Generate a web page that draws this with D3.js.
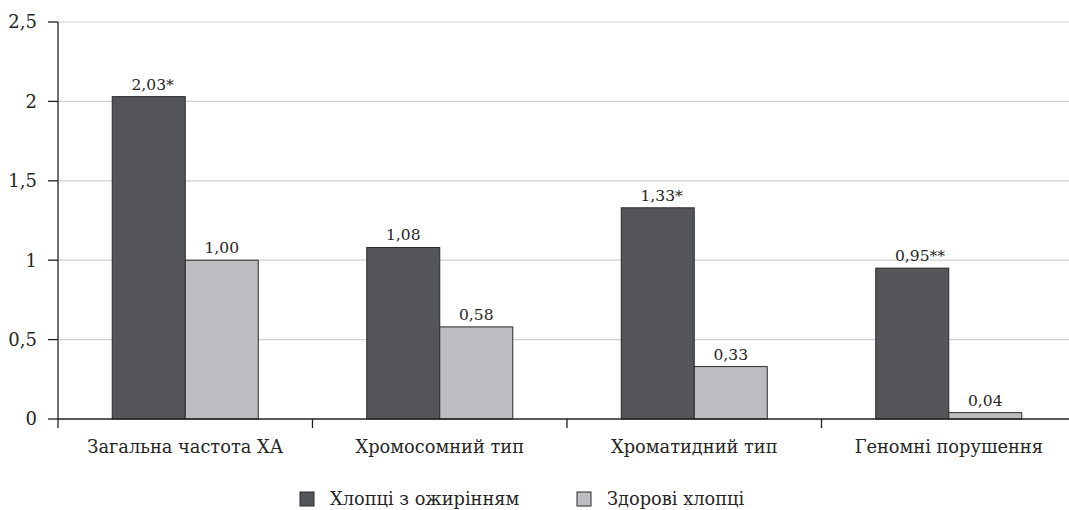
<!DOCTYPE html>
<html><head><meta charset="utf-8">
<script src="https://cdn.jsdelivr.net/npm/d3@7"></script>
<style>body{margin:0;background:#fff}svg{display:block}</style>
</head><body><svg id="c" width="1069" height="510" font-family="DejaVu Serif"></svg>
<script>
const categories = ["Загальна частота ХА","Хромосомний тип","Хроматидний тип","Геномні порушення"];
const seriesNames = ["Хлопці з ожирінням","Здорові хлопці"];
const obese = [2.03,1.08,1.33,0.95];
const healthy = [1.00,0.58,0.33,0.04];
const obeseMarks = ["*","","*","**"];
const healthyMarks = ["","","",""];
const yTicks = [0,0.5,1,1.5,2,2.5];
const colors = ["#555659","#bcbdc1"];

(function(){
const svg = d3.select("#c");
const mLeft = 58, mRight = 1076, mTop = 22, mBottom = 419;
const x = d3.scaleBand().domain(categories).range([mLeft,mRight]).paddingInner(0).paddingOuter(0);
const y = d3.scaleLinear().domain([0,2.5]).range([mBottom,mTop]);
const fmt = v => d3.format(".2f")(v).replace(".",",");
const fmtTick = v => String(v).replace(".",",");
const txt = "#262626";

svg.append("g").selectAll("line").data(yTicks.filter(d=>d>0)).join("line")
  .attr("x1",mLeft).attr("x2",1069).attr("y1",d=>y(d)).attr("y2",d=>y(d))
  .attr("stroke","#d0d0d0").attr("stroke-width",1.2);

const inner = d3.scaleBand().domain([0,1]).range([0,146]);
const series = [obese, healthy];
const marks = [obeseMarks, healthyMarks];
const groups = svg.append("g");
series.forEach((vals,si)=>{
  const g = groups.append("g");
  g.selectAll("rect").data(vals).join("rect")
    .attr("x",(d,i)=>x(categories[i])+x.bandwidth()/2-73+inner(si))
    .attr("y",d=>y(d)).attr("width",inner.bandwidth()).attr("height",d=>y(0)-y(d))
    .attr("fill",colors[si]).attr("stroke","#2a2a2a").attr("stroke-width",1);
  vals.forEach((d,i)=>{
    const cx = x(categories[i])+x.bandwidth()/2-73+inner(si)+inner.bandwidth()/2;
    const t = g.append("text").attr("x",cx).attr("y",y(d)-7).attr("text-anchor","middle")
      .attr("font-size",15.5).attr("fill",txt).text(fmt(d));
    if (marks[si][i]) {
      const w = t.node().getComputedTextLength();
      g.append("text").attr("x",cx+w/2).attr("y",y(d)-7).attr("font-size",15.5).attr("fill",txt).text(marks[si][i]);
    }
  });
});

const ya = svg.append("g");
ya.append("line").attr("x1",mLeft).attr("x2",mLeft).attr("y1",mTop).attr("y2",mBottom).attr("stroke","#222").attr("stroke-width",1.3);
ya.selectAll("line.t").data(yTicks).join("line").attr("class","t")
  .attr("x1",48).attr("x2",mLeft).attr("y1",d=>y(d)).attr("y2",d=>y(d)).attr("stroke","#222").attr("stroke-width",1.3);
ya.selectAll("text").data(yTicks).join("text").attr("x",37).attr("y",d=>y(d)).attr("dy","0.35em")
  .attr("text-anchor","end").attr("font-size",18).attr("fill",txt).text(fmtTick);

const xa = svg.append("g");
xa.append("line").attr("x1",mLeft).attr("x2",1069).attr("y1",mBottom).attr("y2",mBottom).attr("stroke","#222").attr("stroke-width",1.3);
const bounds = categories.map(c=>x(c)).concat([mRight]);
xa.selectAll("line.t").data(bounds).join("line").attr("class","t")
  .attr("x1",d=>d).attr("x2",d=>d).attr("y1",mBottom).attr("y2",mBottom+9).attr("stroke","#222").attr("stroke-width",1.3);
xa.selectAll("text").data(categories).join("text")
  .attr("x",d=>x(d)+x.bandwidth()/2).attr("y",453).attr("text-anchor","middle").attr("font-size",17.8).attr("fill",txt).text(d=>d);

const lx = [300, 577];
seriesNames.forEach((n,i)=>{
  svg.append("rect").attr("x",lx[i]).attr("y",492).attr("width",14).attr("height",14)
    .attr("fill",colors[i]).attr("stroke","#2a2a2a").attr("stroke-width",1);
  svg.append("text").attr("x",lx[i]+30).attr("y",505).attr("font-size",17.8).attr("fill",txt).text(n);
});
})();
</script></body></html>
